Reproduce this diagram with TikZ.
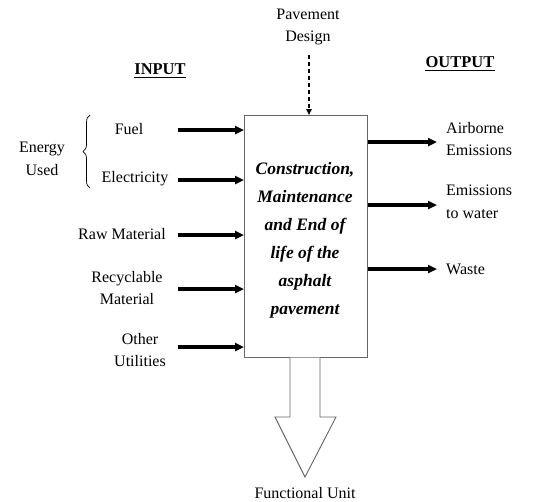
\documentclass[tikz,border=0pt]{standalone}
\usepackage{fontspec}
\setmainfont{Liberation Serif}
\usetikzlibrary{arrows.meta,decorations.pathreplacing}
\begin{document}
\begin{tikzpicture}[x=1pt,y=-1pt,
  lbl/.style={font=\fontsize{16}{22.5}\selectfont, align=center, inner sep=0pt},
  lbll/.style={lbl, anchor=west, align=left},
  thick arrow/.style={line width=3.2pt, -{Triangle[length=9pt,width=8pt]}},
  head/.style={font=\fontsize{16.5}{18}\selectfont\bfseries, inner sep=0pt}]
\useasboundingbox (0,0) rectangle (545,501);
% main box
\node[draw=black!60, line width=1.2pt, minimum width=123pt, minimum height=242pt, inner sep=0pt, anchor=north west] (box) at (244,115) {};
\node[font=\fontsize{17.5}{28}\selectfont\bfseries\itshape, align=center] (boxtxt) at (305,240)
  {Construction,\\Maintenance\\and End of\\life of the\\asphalt\\pavement};
% functional unit arrow
\draw[draw=black!60, line width=0.9pt, fill=white]
  (290,357.6) coordinate (s1) -- (290,417) -- (275,417) -- (305,477) coordinate (tip) -- (336,417) -- (320,417) -- (320,357.6);
\node[lbl] (fu) at (305,493) {Functional Unit};
% pavement design
\node[lbl] (pd) at (308,27) {Pavement\\Design};
\coordinate (pdstart) at (309,55);
\draw[dash pattern=on 4pt off 3pt, line width=1.2pt, -{Triangle[length=6pt,width=5.5pt]}] (pdstart) -- (309,115);
% headings
\node[head] (inp) at (160,69) {INPUT};
\draw[line width=1pt] ([yshift=-3pt]inp.south west) -- ([yshift=-3pt]inp.south east);
\node[head] (outp) at (460,62) {OUTPUT};
\draw[line width=1pt] ([yshift=-3pt]outp.south west) -- ([yshift=-3pt]outp.south east);
% inputs
\node[lbl] (fuel) at (129,129) {Fuel};
\node[lbl] (elec) at (135,179) {Electricity};
\node[lbl] (raw) at (122,234) {Raw Material};
\node[lbl] (rec) at (127,288) {Recyclable\\Material};
\node[lbl] (oth) at (140,350) {Other\\Utilities};
\node[lbl] (energy) at (42,159) {Energy\\Used};
\draw[line width=0.7pt, decorate, decoration={brace, amplitude=7pt}] (90,188) -- (90,115);
\coordinate (i1) at (178,130);
\coordinate (i2) at (178,180);
\coordinate (i3) at (178,235);
\coordinate (i4) at (178,289);
\coordinate (i5) at (178,347);
\draw[thick arrow] (i1) -- (box.west |- i1);
\draw[thick arrow] (i2) -- (box.west |- i2);
\draw[thick arrow] (i3) -- (box.west |- i3);
\draw[thick arrow] (i4) -- (box.west |- i4);
\draw[thick arrow] (i5) -- (box.west |- i5);
% outputs
\node[lbll] (air) at (446,139) {Airborne\\Emissions};
\node[lbll] (wat) at (446,202) {Emissions\\to water};
\node[lbll] (was) at (446,269) {Waste};
\coordinate (o1) at (437,142);
\coordinate (o2) at (437,205);
\coordinate (o3) at (437,269);
\draw[thick arrow] (box.east |- o1) -- (o1);
\draw[thick arrow] (box.east |- o2) -- (o2);
\draw[thick arrow] (box.east |- o3) -- (o3);
\end{tikzpicture}
\end{document}
